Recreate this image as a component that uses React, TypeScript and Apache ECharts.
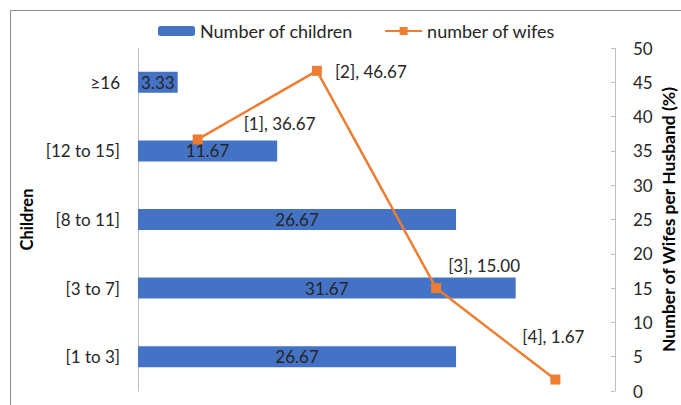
import React, { useEffect, useRef } from "react";
import * as echarts from "echarts";

// Children groups (bottom to top) and share of husbands in each group
const childGroups = ["[1 to 3]", "[3 to 7]", "[8 to 11]", "[12 to 15]", "≥16"];
const childValues = [26.67, 31.67, 26.67, 11.67, 3.33];

// Number of wives per husband
const wifeCategories = ["[1]", "[2]", "[3]", "[4]"];
const wifeValues = [36.67, 46.67, 15.0, 1.67];

// Right axis scale
const wifeAxisMin = 0;
const wifeAxisMax = 50;
const wifeAxisStep = 5;

const FONT = "Lato, 'Noto Sans', sans-serif";
const BLUE = "#4472C4";
const ORANGE = "#ED7D31";
const TEXT = "#262626";
const FS = 17;

// hand-placed label offsets for the line points
const lineLabelOffsets: [number, number][] = [
  [82, -16],
  [54, 1],
  [48, -23],
  [-2, -43],
];

export default function App() {
  const ref = useRef<HTMLDivElement>(null);

  useEffect(() => {
    if (!ref.current) return;
    const chart = echarts.init(ref.current, undefined, { renderer: "svg" });

    const lineData = wifeValues.map((v, i) => ({
      value: v,
      label: {
        show: true,
        position: "inside" as const,
        offset: lineLabelOffsets[i],
        formatter: `${wifeCategories[i]}, ${v.toFixed(2)}`,
        fontFamily: FONT,
        fontSize: FS,
        color: TEXT,
      },
    }));

    chart.setOption({
      animation: false,
      textStyle: { fontFamily: FONT },
      graphic: [
        {
          type: "rect",
          shape: { x: 10.5, y: 10.5, width: 720, height: 440 },
          style: { fill: "none", stroke: "#8c8c8c", lineWidth: 1 },
          silent: true,
        },
      ],
      legend: {
        left: 153,
        top: 17,
        padding: 5,
        itemWidth: 37,
        itemHeight: 10,
        itemGap: 31,
        textStyle: { fontFamily: FONT, fontSize: 18, color: TEXT },
        data: ["Number of children", "number of wifes"],
      },
      grid: {
        left: 138,
        right: 66,
        top: 48,
        bottom: 14,
        containLabel: false,
        outerBoundsMode: "none",
      },
      xAxis: [
        { type: "value", min: 0, max: 40, show: false },
        { type: "category", data: wifeCategories, boundaryGap: true, show: false },
      ],
      yAxis: [
        {
          type: "category",
          data: childGroups,
          position: "left",
          name: "Children",
          nameLocation: "middle",
          nameGap: 103,
          nameRotate: 90,
          nameMoveOverlap: false,
          nameTextStyle: { fontFamily: FONT, fontSize: 16.5, fontWeight: "bold", color: "#000" },
          axisLine: { show: true, lineStyle: { color: "#bfbfbf", width: 1 } },
          axisTick: { show: false },
          axisLabel: { margin: 18, fontFamily: FONT, fontSize: FS, color: TEXT },
          splitLine: { show: false },
        },
        {
          type: "value",
          position: "right",
          min: wifeAxisMin,
          max: wifeAxisMax,
          interval: wifeAxisStep,
          name: "Number of Wifes per Husband (%)",
          nameLocation: "middle",
          nameGap: 44,
          nameRotate: 90,
          nameMoveOverlap: false,
          nameTextStyle: { fontFamily: FONT, fontSize: 17.5, fontWeight: "bold", color: "#000" },
          axisLine: { show: true, lineStyle: { color: "#bfbfbf", width: 1 } },
          axisTick: { show: true, inside: true, length: 4, lineStyle: { color: "#bfbfbf" } },
          axisLabel: { margin: 18, fontFamily: FONT, fontSize: FS, color: TEXT },
          splitLine: { show: false },
        },
      ],
      series: [
        {
          name: "Number of children",
          type: "bar",
          xAxisIndex: 0,
          yAxisIndex: 0,
          data: childValues,
          barWidth: 21,
          itemStyle: { color: BLUE },
          label: {
            show: true,
            position: "inside",
            formatter: (p: any) => Number(p.value).toFixed(2),
            fontFamily: FONT,
            fontSize: FS,
            color: TEXT,
          },
        },
        {
          name: "number of wifes",
          type: "line",
          xAxisIndex: 1,
          yAxisIndex: 1,
          data: lineData,
          symbol: "rect",
          symbolSize: 10,
          lineStyle: { color: ORANGE, width: 2.5 },
          itemStyle: { color: ORANGE },
          z: 3,
        },
      ],
    });

    return () => chart.dispose();
  }, []);

  return (
    <div
      ref={ref}
      style={{ position: "absolute", left: 0, top: 0, width: 681, height: 405, background: "#fff" }}
    />
  );
}
